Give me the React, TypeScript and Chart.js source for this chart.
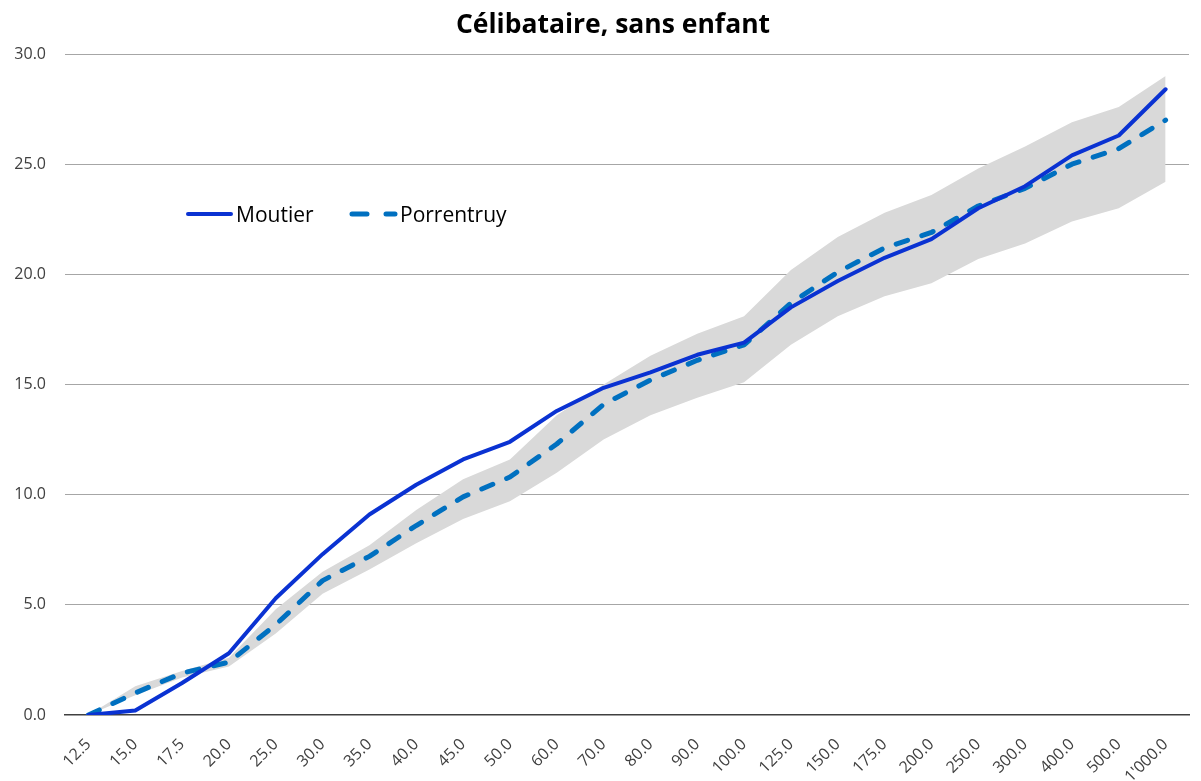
import React, { useEffect, useRef } from "react";
import { Chart, registerables } from "chart.js";

Chart.register(...registerables);

const categories = [
  "12.5", "15.0", "17.5", "20.0", "25.0", "30.0", "35.0", "40.0", "45.0", "50.0",
  "60.0", "70.0", "80.0", "90.0", "100.0", "125.0", "150.0", "175.0", "200.0",
  "250.0", "300.0", "400.0", "500.0", "1'000.0",
];

const moutier = [
  0, 0.2, 1.45, 2.8, 5.3, 7.3, 9.1, 10.45, 11.6, 12.4, 13.8, 14.85, 15.55, 16.35,
  16.9, 18.5, 19.7, 20.75, 21.6, 23.0, 24.0, 25.4, 26.3, 28.4,
];

const porrentruy = [
  0, 1.0, 1.9, 2.4, 4.1, 6.1, 7.2, 8.6, 9.9, 10.8, 12.3, 14.1, 15.2, 16.1, 16.8,
  18.7, 20.1, 21.2, 21.9, 23.1, 23.9, 25.0, 25.7, 27.0,
];

const bandUpper = [
  0, 1.3, 2.0, 2.6, 4.8, 6.5, 7.7, 9.3, 10.7, 11.6, 13.6, 15.0, 16.3, 17.3, 18.1,
  20.2, 21.7, 22.8, 23.6, 24.8, 25.8, 26.9, 27.6, 29.0,
];

const bandLower = [
  0, 0.9, 1.7, 2.2, 3.7, 5.5, 6.6, 7.8, 8.9, 9.7, 11.0, 12.5, 13.6, 14.4, 15.1,
  16.8, 18.1, 19.0, 19.6, 20.7, 21.4, 22.4, 23.0, 24.2,
];

const yTicks = [0, 5, 10, 15, 20, 25, 30];

const TITLE = "Célibataire, sans enfant";
const MOUTIER_COLOR = "#0A32D2";
const PORRENTRUY_COLOR = "#0070C0";
const BAND_COLOR = "#D9D9D9";
const FONT = "'Open Sans', Lato, sans-serif";

export default function App() {
  const canvasRef = useRef<HTMLCanvasElement | null>(null);

  useEffect(() => {
    document.body.style.margin = "0";
    const canvas = canvasRef.current;
    if (!canvas) return;
    const chart = new Chart(canvas, {
      type: "line",
      data: {
        labels: categories,
        datasets: [
          {
            label: "band-lower",
            data: bandLower,
            borderWidth: 0,
            pointRadius: 0,
            fill: false,
            tension: 0,
            order: 3,
          },
          {
            label: "band-upper",
            data: bandUpper,
            borderWidth: 0,
            pointRadius: 0,
            backgroundColor: BAND_COLOR,
            fill: "-1",
            tension: 0,
            order: 3,
          },
          {
            label: "Porrentruy",
            data: porrentruy,
            borderColor: PORRENTRUY_COLOR,
            borderWidth: 5,
            borderDash: [12, 15],
            borderCapStyle: "round",
            borderJoinStyle: "round",
            pointRadius: 0,
            fill: false,
            tension: 0,
            order: 2,
          },
          {
            label: "Moutier",
            data: moutier,
            borderColor: MOUTIER_COLOR,
            borderWidth: 4,
            borderCapStyle: "round",
            borderJoinStyle: "round",
            pointRadius: 0,
            fill: false,
            tension: 0,
            order: 1,
          },
        ],
      },
      options: {
        animation: false,
        responsive: true,
        maintainAspectRatio: false,
        layout: { padding: { top: 54, right: 12, left: 0, bottom: 0 } },
        plugins: {
          legend: { display: false },
          tooltip: { enabled: false },
          title: { display: false },
        },
        scales: {
          x: {
            offset: true,
            grid: { display: false, offset: true },
            border: { display: true, color: "#404040", width: 1.5 },
            ticks: {
              autoSkip: false,
              minRotation: 45,
              maxRotation: 45,
              color: "#404040",
              font: { family: FONT, size: 16 },
              padding: 12,
            },
            afterFit: (scale: any) => {
              scale.height = 66;
            },
          },
          y: {
            min: 0,
            max: 30,
            afterBuildTicks: (scale: any) => {
              scale.ticks = yTicks.map((v) => ({ value: v }));
            },
            grid: {
              drawTicks: false,
              color: (ctx: any) => (ctx.tick && ctx.tick.value === 0 ? "rgba(0,0,0,0)" : "#A6A6A6"),
              lineWidth: 1,
            },
            border: { display: false },
            ticks: {
              color: "#404040",
              font: { family: FONT, size: 16 },
              padding: 19,
              callback: (v: any) => Number(v).toFixed(1),
            },
            afterFit: (scale: any) => {
              scale.width = 65;
            },
          },
        },
      },
    });
    return () => chart.destroy();
  }, []);

  return (
    <div style={{ position: "relative", width: 1201, height: 781 }}>
      <canvas ref={canvasRef} />
      <svg
        width={1201}
        height={781}
        style={{ position: "absolute", left: 0, top: 0, pointerEvents: "none" }}
      >
        <text
          x={613}
          y={33}
          textAnchor="middle"
          fontFamily={FONT}
          fontSize={26.5}
          fontWeight="bold"
          fill="#000000"
        >
          {TITLE}
        </text>
        <line x1={188} y1={214} x2={231} y2={214} stroke={MOUTIER_COLOR} strokeWidth={4} strokeLinecap="round" />
        <text x={236} y={222} fontFamily={FONT} fontSize={21} fill="#000000">
          Moutier
        </text>
        <line
          x1={352}
          y1={214}
          x2={395}
          y2={214}
          stroke={PORRENTRUY_COLOR}
          strokeWidth={5}
          strokeLinecap="round"
          strokeDasharray="15 19"
        />
        <text x={400} y={222} fontFamily={FONT} fontSize={21} fill="#000000">
          Porrentruy
        </text>
      </svg>
    </div>
  );
}
